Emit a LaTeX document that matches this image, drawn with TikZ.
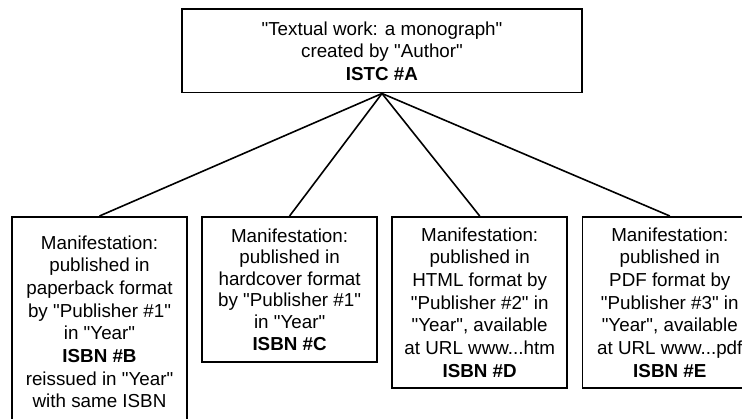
\documentclass[tikz,border=0pt]{standalone}
\usepackage{fontspec}
\setmainfont{Liberation Sans}[Ligatures=TeXOff]
\usetikzlibrary{positioning}
\tikzset{node distance=13.5pt,
  box/.style={draw, rectangle, line width=1.6pt, inner sep=0pt, align=center,
    minimum width=175pt, font=\fontsize{18.8}{22.7}\selectfont},
  link/.style={line width=1.6pt}}

\begin{document}
\begin{tikzpicture}[x=1pt,y=-1pt]
\useasboundingbox (0,0) rectangle (742,419);
\clip (0,0) rectangle (742,419);
\node[box, minimum width=400pt, minimum height=83.4pt] (work) at (382,51)
  {"Textual work: a monograph"\\created by "Author"\\\textbf{ISTC \#A}};
\node[box, minimum height=210pt, anchor=north] (isbnb) at (99.5,216)
  {Manifestation:\\published in\\paperback format\\by "Publisher \#1"\\in "Year"\\\textbf{ISBN \#B}\\reissued in "Year"\\with same ISBN};
\node[box, minimum height=145pt, font=\fontsize{18.8}{21.6}\selectfont,
  right=of isbnb.north east, anchor=north west] (isbnc)
  {Manifestation:\\published in\\hardcover format\\by "Publisher \#1"\\in "Year"\\\textbf{ISBN \#C}};
\node[box, minimum height=171.5pt, right=of isbnc.north east, anchor=north west] (isbnd)
  {Manifestation:\\published in\\HTML format by\\"Publisher \#2" in\\"Year", available\\at URL www...htm\\\textbf{ISBN \#D}};
\node[box, minimum height=171.5pt, right=of isbnd.north east, anchor=north west] (isbne)
  {Manifestation:\\published in\\PDF format by\\"Publisher \#3" in\\"Year", available\\at URL www...pdf\\\textbf{ISBN \#E}};
\draw[link] (work.south) edge (isbnb.north)
(work.south) edge (isbnc.north)
(work.south) edge (isbnd.north)
(work.south) edge (isbne.north);
\end{tikzpicture}
\end{document}
